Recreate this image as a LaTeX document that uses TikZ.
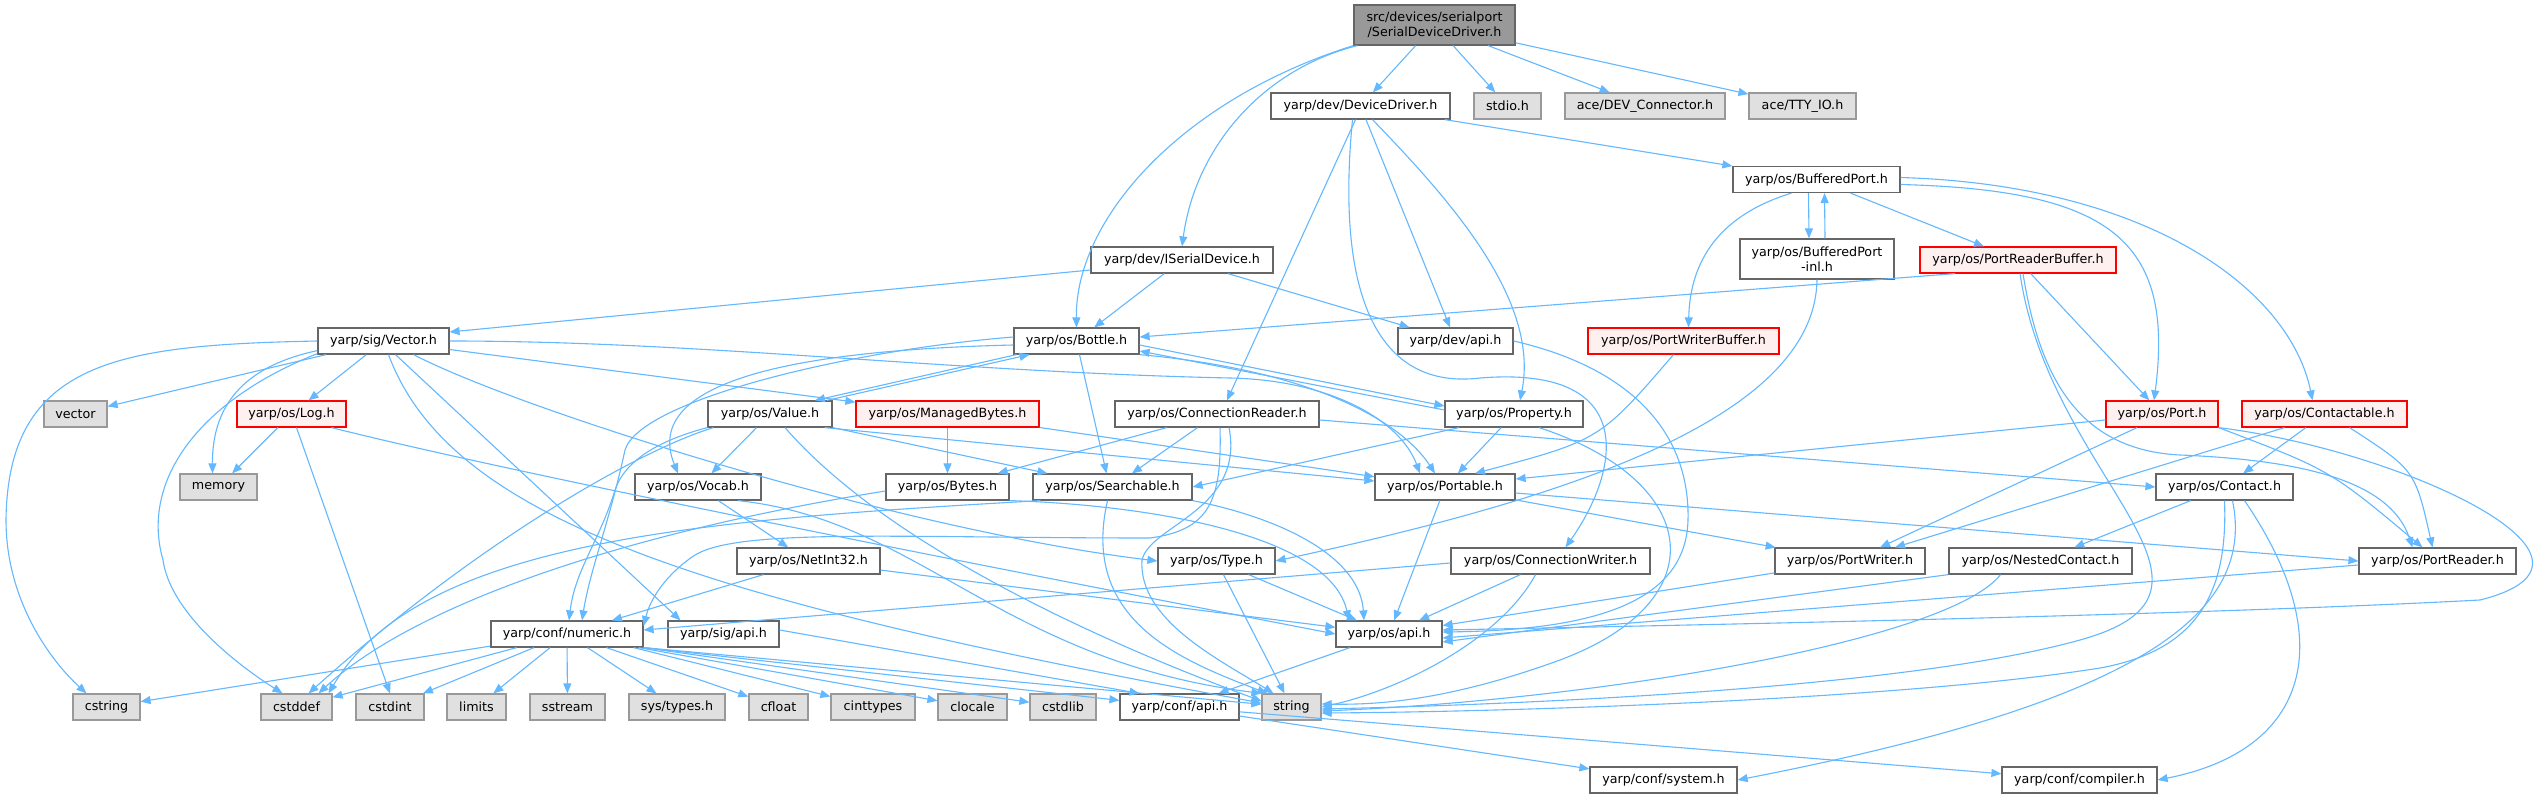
\documentclass[tikz,border=0pt]{standalone}
\usepackage{fontspec}
\setmainfont{DejaVu Sans}
\usetikzlibrary{arrows.meta}
\definecolor{edgec}{HTML}{63B8FF}
\definecolor{bordN}{HTML}{666666}
\definecolor{bordE}{HTML}{999999}
\definecolor{fillE}{HTML}{E0E0E0}
\definecolor{fillR}{HTML}{FFF0F0}
\definecolor{fillT}{HTML}{999999}
\begin{document}
\begin{tikzpicture}[x=1pt,y=-1pt,
  box/.style={draw=bordN, fill=white, line width=1.2pt, inner sep=0pt, minimum height=26pt, font=\fontsize{12.7}{15}\selectfont, text=black},
  nd/.style={box},
  ext/.style={box, draw=bordE, fill=fillE},
  trunc/.style={box, draw=red, fill=fillR},
  root/.style={box, fill=fillT, minimum height=40pt, align=center},
  ln/.style={draw=edgec, line width=1.1pt, -{Triangle[length=10pt,width=8pt]}}
]
\fill[white] (0,0) rectangle (2540,799);
\useasboundingbox (0,0) rectangle (2540,799);

% ---------- nodes ----------
\node[root, minimum width=161pt] (SDD) at (1434.5,25) {src/devices/serialport\\/SerialDeviceDriver.h};
\node[nd, minimum width=179pt] (DD) at (1360.5,106) {yarp/dev/DeviceDriver.h};
\node[ext, minimum width=67pt] (stdio) at (1507.5,106) {stdio.h};
\node[ext, minimum width=160pt] (DEV) at (1645,106) {ace/DEV\_Connector.h};
\node[ext, minimum width=107pt] (TTY) at (1802.5,106) {ace/TTY\_IO.h};
\node[nd, minimum width=167pt] (BP) at (1816.5,179.5) {yarp/os/BufferedPort.h};
\node[nd, minimum width=182pt] (ISD) at (1182,260) {yarp/dev/ISerialDevice.h};
\node[nd, minimum width=154pt, minimum height=40pt, align=center] (BPinl) at (1817,259) {yarp/os/BufferedPort\\-inl.h};
\node[trunc, minimum width=196pt] (PRB) at (2018,260) {yarp/os/PortReaderBuffer.h};
\node[nd, minimum width=131pt] (Vector) at (383.5,341) {yarp/sig/Vector.h};
\node[nd, minimum width=125pt] (Bottle) at (1076.5,341) {yarp/os/Bottle.h};
\node[nd, minimum width=115pt] (devapi) at (1455.5,341) {yarp/dev/api.h};
\node[trunc, minimum width=191pt] (PWB) at (1683.5,341) {yarp/os/PortWriterBuffer.h};
\node[ext, minimum width=63pt] (vector) at (75.5,414) {vector};
\node[trunc, minimum width=109pt] (Log) at (291.5,414) {yarp/os/Log.h};
\node[nd, minimum width=124pt] (Value) at (770,414) {yarp/os/Value.h};
\node[trunc, minimum width=183pt] (MB) at (947.5,414) {yarp/os/ManagedBytes.h};
\node[nd, minimum width=204pt] (CR) at (1217,414) {yarp/os/ConnectionReader.h};
\node[nd, minimum width=138pt] (Property) at (1514,414) {yarp/os/Property.h};
\node[trunc, minimum width=112pt] (Port) at (2162,414) {yarp/os/Port.h};
\node[trunc, minimum width=165pt] (Contactable) at (2324.5,414) {yarp/os/Contactable.h};
\node[ext, minimum width=77pt] (memory) at (218.5,487) {memory};
\node[nd, minimum width=126pt] (Vocab) at (698,487) {yarp/os/Vocab.h};
\node[nd, minimum width=123pt] (Bytes) at (947.5,487) {yarp/os/Bytes.h};
\node[nd, minimum width=159pt] (Searchable) at (1112.5,487) {yarp/os/Searchable.h};
\node[nd, minimum width=140pt] (Portable) at (1445,487) {yarp/os/Portable.h};
\node[nd, minimum width=137pt] (Contact) at (2224.5,487) {yarp/os/Contact.h};
\node[nd, minimum width=143pt] (NetInt32) at (808.5,561) {yarp/os/NetInt32.h};
\node[nd, minimum width=117pt] (Type) at (1216.5,561) {yarp/os/Type.h};
\node[nd, minimum width=199pt] (CW) at (1550.5,561) {yarp/os/ConnectionWriter.h};
\node[nd, minimum width=150pt] (PortWriter) at (1850,561) {yarp/os/PortWriter.h};
\node[nd, minimum width=183pt] (NestedContact) at (2040.5,561) {yarp/os/NestedContact.h};
\node[nd, minimum width=157pt] (PortReader) at (2437.5,561) {yarp/os/PortReader.h};
\node[nd, minimum width=152pt] (numeric) at (567,634) {yarp/conf/numeric.h};
\node[nd, minimum width=111pt] (sigapi) at (723.5,634) {yarp/sig/api.h};
\node[nd, minimum width=106pt] (osapi) at (1389,634) {yarp/os/api.h};
\node[ext, minimum width=67pt] (cstring) at (106.5,707) {cstring};
\node[ext, minimum width=71pt] (cstddef) at (296.5,707) {cstddef};
\node[ext, minimum width=68pt] (cstdint) at (390,707) {cstdint};
\node[ext, minimum width=59pt] (limits) at (476.5,707) {limits};
\node[ext, minimum width=75pt] (sstream) at (567.5,707) {sstream};
\node[ext, minimum width=96pt] (systypes) at (677,707) {sys/types.h};
\node[ext, minimum width=59pt] (cfloat) at (778.5,707) {cfloat};
\node[ext, minimum width=84pt] (cinttypes) at (873,707) {cinttypes};
\node[ext, minimum width=69pt] (clocale) at (972.5,707) {clocale};
\node[ext, minimum width=66pt] (cstdlib) at (1063,707) {cstdlib};
\node[nd, minimum width=119pt] (confapi) at (1179.5,707) {yarp/conf/api.h};
\node[ext, minimum width=59pt] (string) at (1291.5,707) {string};
\node[nd, minimum width=147pt] (system) at (1663.5,780) {yarp/conf/system.h};
\node[nd, minimum width=155pt] (compiler) at (2079.5,780) {yarp/conf/compiler.h};

% ---------- edges ----------
% SerialDeviceDriver.h
\draw[ln] (SDD.south west) .. controls (1180,100) and (1075,220) .. (Bottle.north);
\draw[ln] ([xshift=4pt]SDD.south west) .. controls (1260,70) and (1195,150) .. (ISD.north);
\draw[ln] (SDD) -- (DD);
\draw[ln] (SDD) -- (stdio);
\draw[ln] (SDD) -- (DEV);
\draw[ln] (SDD) -- (TTY);
% DeviceDriver.h
\draw[ln] (DD) -- (BP);
\draw[ln] (DD) -- (devapi);
\draw[ln] ([xshift=12pt]DD.south) .. controls (1450,200) and (1540,300) .. ([xshift=6pt]Property.north);
\draw[ln] ([xshift=-5pt]DD.south) -- ([xshift=10pt]CR.north);
\draw[ln] ([xshift=-8pt]DD.south) .. controls (1335,300) and (1380,390) .. (1480,378) .. controls (1640,365) and (1620,470) .. ([xshift=15pt]CW.north);
% BufferedPort.h
\draw[ln] ([xshift=-8pt]BP.south) -- ([xshift=-8pt]BPinl.north);
\draw[ln] ([xshift=8pt]BPinl.north) -- ([xshift=8pt]BP.south);
\draw[ln] (BP) -- (PRB);
\draw[ln] ([xshift=-25pt]BP.south) .. controls (1720,215) and (1690,260) .. ([xshift=5pt]PWB.north);
\draw[ln] ([yshift=-5pt]BP.east) .. controls (2110,190) and (2175,240) .. ([xshift=-8pt]Port.north);
\draw[ln] ([yshift=2pt]BP.east) .. controls (2150,185) and (2290,290) .. ([xshift=-12pt]Contactable.north);
\draw[ln] (BPinl.south) .. controls (1815,420) and (1560,500) .. (Type.east);
% PortReaderBuffer.h
\draw[ln] ([xshift=-63pt]PRB.south) -- ([yshift=4pt]Bottle.east);
\draw[ln] (PRB) -- (Port);
\draw[ln] ([xshift=5pt]PRB.south) .. controls (2040,380) and (2080,450) .. (2180,455) .. controls (2300,460) and (2390,480) .. ([xshift=-25pt]PortReader.north);
\draw[ln] ([xshift=2pt]PRB.south) .. controls (2050,480) and (2260,590) .. (2080,640) .. controls (1900,690) and (1500,705) .. ([yshift=-2pt]string.east);
% PortWriterBuffer.h
\draw[ln] ([xshift=-10pt]PWB.south) .. controls (1600,440) .. ([xshift=30pt]Portable.north);
% ISerialDevice.h
\draw[ln] ([yshift=-10pt]ISD.west) -- ([yshift=9pt]Vector.east);
\draw[ln] (ISD) -- (Bottle);
\draw[ln] (ISD) -- (devapi);
% Vector.h
\draw[ln] (Vector.west) .. controls (120,345) and (8,360) .. (6,520) .. controls (6,600) and (50,660) .. ([xshift=-20pt]cstring.north);
\draw[ln] (Vector) -- (vector);
\draw[ln] (Vector) -- (Log);
\draw[ln] ([yshift=4pt]Vector.south west) .. controls (250,365) and (212,400) .. ([xshift=-6pt]memory.north);
\draw[ln] ([yshift=1pt]Vector.south west) .. controls (200,400) and (140,480) .. (163,560) .. controls (170,610) and (230,660) .. ([xshift=-14pt]cstddef.north);
\draw[ln] (Vector) -- (MB);
\draw[ln] (Vector.east) .. controls (700,341) and (950,372) .. (1230,378) .. controls (1330,380) and (1400,420) .. ([xshift=-25pt]Portable.north);
\draw[ln] ([xshift=30pt]Vector.south) .. controls (520,410) and (900,530) .. (Type.west);
\draw[ln] ([xshift=12pt]Vector.south) -- ([xshift=-43pt]sigapi.north);
\draw[ln] ([xshift=5pt]Vector.south) .. controls (450,520) and (700,600) .. ([yshift=4pt]string.west);
% Log.h
\draw[ln] (Log) -- (memory);
\draw[ln] ([xshift=5pt]Log.south) -- (cstdint.north);
\draw[ln] ([xshift=40pt]Log.south) .. controls (500,470) and (900,550) .. (osapi.west);
% Value.h and Bottle.h
\draw[ln] ([xshift=57pt]Value.north) -- ([xshift=-47pt]Bottle.south);
\draw[ln] ([xshift=-60pt]Bottle.south) -- ([xshift=45pt]Value.north);
\draw[ln] (Value) -- (Vocab);
\draw[ln] (Value.south east) -- ([xshift=-65pt]Searchable.north);
\draw[ln] ([xshift=-8pt]Value.south east) -- ([yshift=6pt]Portable.west);
\draw[ln] (Value.south west) .. controls (660,440) and (625,460) .. (615,490) .. controls (600,540) and (575,570) .. ([xshift=2pt]numeric.north);
\draw[ln] ([xshift=6pt]Value.south west) .. controls (640,450) and (480,540) .. ([xshift=12pt]cstddef.north);
\draw[ln] ([xshift=15pt]Value.south) .. controls (900,560) and (1150,660) .. ([yshift=6pt]string.west);
\draw[ln] ([yshift=-4pt]Bottle.west) .. controls (800,350) and (640,380) .. ([xshift=-20pt]Vocab.north);
\draw[ln] ([yshift=4pt]Bottle.west) .. controls (850,350) and (640,400) .. (625,450) .. controls (610,520) and (590,570) .. ([xshift=15pt]numeric.north);
\draw[ln] ([xshift=3pt]Bottle.south) -- ([xshift=-6pt]Searchable.north);
\draw[ln] (Bottle.south east) .. controls (1310,370) and (1400,420) .. ([xshift=-10pt]Portable.north);
\draw[ln] ([yshift=-4pt]Bottle.east) -- ([yshift=8pt]Property.west);
% ManagedBytes.h
\draw[ln] (MB) -- (Bytes);
\draw[ln] (MB) -- (Portable);
% ConnectionReader.h
\draw[ln] (CR) -- (Bytes);
\draw[ln] (CR) -- (Searchable);
\draw[ln] ([yshift=-6pt]CR.east) -- (Contact.west);
\draw[ln] ([xshift=3pt]CR.south) .. controls (1222,500) and (1210,530) .. (1150,538) .. controls (900,538) and (740,528) .. (695,555) .. controls (665,575) and (650,600) .. ([yshift=8pt]numeric.east);
\draw[ln] ([xshift=12pt]CR.south) .. controls (1245,510) and (1150,525) .. (1142,560) .. controls (1138,620) and (1220,660) .. ([xshift=-18pt]string.north);
% Property.h
\draw[ln] ([yshift=4pt]Property.west) -- ([yshift=-10pt]Bottle.east);
\draw[ln] (Property) -- (Portable);
\draw[ln] ([xshift=-55pt]Property.south) -- (Searchable.east);
\draw[ln] ([xshift=25pt]Property.south) .. controls (1700,480) and (1720,600) .. (1560,660) .. controls (1450,700) and (1380,705) .. ([yshift=3pt]string.east);
% dev/api.h
\draw[ln] (devapi.east) .. controls (1640,370) and (1690,440) .. (1688,520) .. controls (1686,600) and (1600,630) .. ([yshift=2pt]osapi.east);
% Port.h
\draw[ln] ([yshift=-6pt]Port.west) -- ([yshift=8pt]Portable.east);
\draw[ln] ([xshift=-25pt]Port.south) -- ([xshift=30pt]PortWriter.north);
\draw[ln] (Port.south east) .. controls (2330,470) .. ([xshift=-15pt]PortReader.north);
\draw[ln] (Port.south east) .. controls (2400,450) and (2640,560) .. (2480,600) .. controls (2200,615) and (1700,625) .. ([yshift=4pt]osapi.east);
% Contactable.h
\draw[ln] (Contactable) -- (Contact);
\draw[ln] ([xshift=-40pt]Contactable.south) -- ([xshift=45pt]PortWriter.north);
\draw[ln] ([xshift=25pt]Contactable.south) .. controls (2415,470) .. ([xshift=-5pt]PortReader.north);
% Contact.h
\draw[ln] (Contact) -- (NestedContact);
\draw[ln] (Contact.south) .. controls (2228,590) and (2200,650) .. (2100,668) .. controls (1900,700) and (1500,712) .. ([yshift=-6pt]string.east);
\draw[ln] ([xshift=8pt]Contact.south) .. controls (2255,610) and (2150,700) .. (system.east);
\draw[ln] ([xshift=20pt]Contact.south) .. controls (2340,640) and (2310,750) .. (compiler.east);
% Portable.h
\draw[ln] (Portable) -- (osapi);
\draw[ln] (Portable) -- (PortWriter);
\draw[ln] ([yshift=-6pt]Portable.east) -- (PortReader.west);
% Vocab.h
\draw[ln] (Vocab) -- (NetInt32);
\draw[ln] ([xshift=40pt]Vocab.south) .. controls (920,520) and (1000,660) .. (string.north west);
% Bytes.h
\draw[ln] ([yshift=-4pt]Bytes.west) .. controls (640,530) and (420,600) .. ([xshift=22pt]cstddef.north);
\draw[ln] (Bytes.south east) .. controls (1150,505) and (1330,535) .. ([xshift=-40pt]osapi.north);
% Searchable.h
\draw[ln] ([xshift=-72pt]Searchable.south) .. controls (700,520) and (420,540) .. ([xshift=32pt]cstddef.north);
\draw[ln] ([xshift=-5pt]Searchable.south) .. controls (1080,620) and (1180,660) .. ([xshift=6pt]string.north west);
\draw[ln] (Searchable.south east) .. controls (1290,520) and (1360,560) .. ([xshift=-25pt]osapi.north);
% NetInt32.h, Type.h
\draw[ln] (NetInt32) -- (numeric);
\draw[ln] (NetInt32) -- (osapi);
\draw[ln] (Type) -- (string);
\draw[ln] (Type) -- (osapi);
% ConnectionWriter.h
\draw[ln] (CW) -- (osapi);
\draw[ln] ([yshift=-2pt]CW.west) -- ([yshift=4pt]numeric.east);
\draw[ln] ([xshift=-15pt]CW.south) .. controls (1500,640) and (1400,690) .. (string.east);
% PortWriter, PortReader, NestedContact
\draw[ln] (PortWriter) -- (osapi);
\draw[ln] ([yshift=-4pt]PortReader.west) -- ([yshift=-4pt]osapi.east);
\draw[ln] (NestedContact.south west) -- ([yshift=-8pt]osapi.east);
\draw[ln] ([xshift=-40pt]NestedContact.south) .. controls (1950,640) and (1600,700) .. ([yshift=-4pt]string.east);
% numeric.h
\foreach \tg in {cstring,cstddef,cstdint,limits,sstream,systypes,cfloat}
  \draw[ln] (numeric) -- (\tg);
\draw[ln] ([xshift=-10pt]numeric.south east) -- (cinttypes);
\draw[ln] ([xshift=-5pt]numeric.south east) -- (clocale);
\draw[ln] (numeric.south east) -- (cstdlib);
\draw[ln] (numeric.south east) -- (confapi);
\draw[ln] (numeric.south east) -- (string);
% api headers
\draw[ln] ([yshift=4pt]sigapi.east) -- ([xshift=-40pt]confapi.north);
\draw[ln] (osapi) -- (confapi);
\draw[ln] (confapi) -- (system);
\draw[ln] (confapi) -- (compiler);
\end{tikzpicture}
\end{document}
